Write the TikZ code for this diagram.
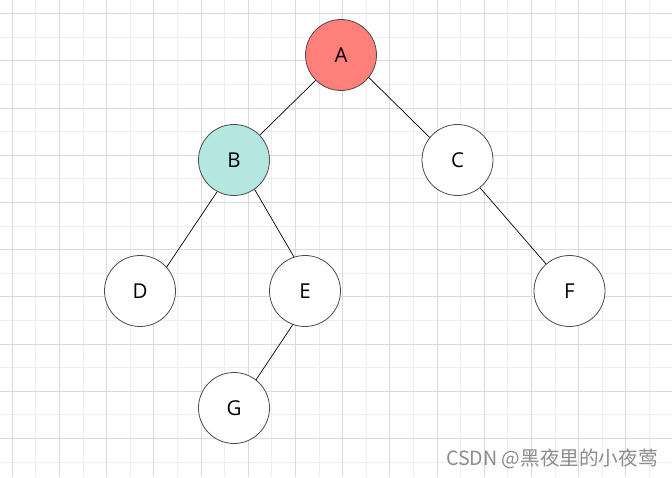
\documentclass[tikz,border=0pt]{standalone}
\usepackage{fontspec}
\setmainfont{Open Sans}
\newfontfamily\cjkfont{Noto Sans CJK SC}
\usepackage{xcolor}
\usepackage{tikz}
\definecolor{TRGridMinor}{HTML}{EEEEEE}
\definecolor{TRGridMajor}{HTML}{DADADA}
\definecolor{TRRed}{HTML}{FF7F7B}
\definecolor{TRTeal}{HTML}{B3E7DF}
\definecolor{TRLine}{HTML}{4A4A4A}
\definecolor{TRMark}{HTML}{8C8C8C}

\begin{document}
\begin{tikzpicture}[x=1pt,y=1pt,
  treenode/.style={circle,draw=TRLine,line width=.8pt,fill=white,
    minimum size=71pt,inner sep=0pt,font=\fontsize{20.5}{24}\selectfont},
  treeedge/.style={black,line width=.7pt}]
\path[use as bounding box] (0,0) rectangle (672,477);
\fill[white] (0,0) rectangle (672,477);
\begin{scope}
\clip (0,0) rectangle (672,477);
% grid
\foreach \i in {0,...,29} {
  \draw[TRGridMinor,line width=.9pt] ({-11.3+23.6*\i},0) -- ({-11.3+23.6*\i},477);
  \draw[TRGridMinor,line width=.9pt] (0,{486.9-23.6*\i}) -- (672,{486.9-23.6*\i});
}
\foreach \i in {0,...,14} {
  \draw[TRGridMajor,line width=.9pt] ({12.3+47.2*\i},0) -- ({12.3+47.2*\i},477);
  \draw[TRGridMajor,line width=.9pt] (0,{463.3-47.2*\i}) -- (672,{463.3-47.2*\i});
}
\end{scope}
% nodes
\node[treenode,fill=TRRed] (A) at (341,422) {A};
\node[treenode,fill=TRTeal] (B) at (234,317) {B};
\node[treenode] (C) at (457.5,317) {C};
\node[treenode] (D) at (140,186) {D};
\node[treenode] (E) at (305,186) {E};
\node[treenode] (F) at (569.5,186) {F};
\node[treenode] (G) at (234,69) {G};
% edges
\draw[treeedge] (A.-135) -- (B.44);
\draw[treeedge] (A.-39) -- (C.141);
\draw[treeedge] (B.-118) -- (D.42);
\draw[treeedge] (B.-55) -- (E.108);
\draw[treeedge] (E.-110) -- (G.52);
\draw[treeedge] (C.-51) -- (F.131);
% watermark
\node[anchor=base west,inner sep=0pt,text=TRMark] (mark) at (446,12)
  {\cjkfont\fontsize{19.6}{22}\selectfont CSDN @黑夜里的小夜莺};
\end{tikzpicture}
\end{document}
